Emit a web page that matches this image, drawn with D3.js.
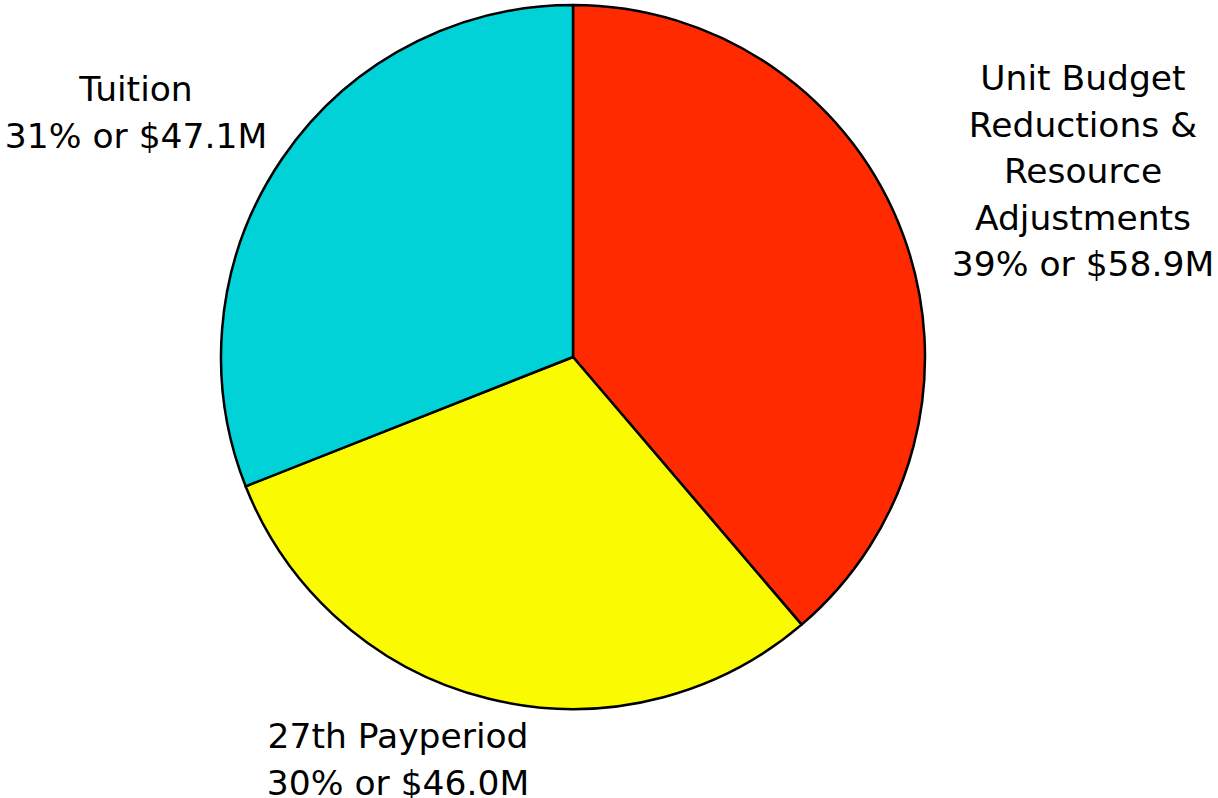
<!DOCTYPE html>
<html>
<head>
<meta charset="utf-8">
<script src="https://cdn.jsdelivr.net/npm/d3@7"></script>
<style>
  html, body { margin: 0; padding: 0; background: #ffffff; }
  svg { display: block; }
  text { font-family: "DejaVu Sans", "Lucida Grande", sans-serif; fill: #000; }
</style>
</head>
<body>
<svg id="chart" width="1218" height="798"></svg>
<script>
// Budget gap closure sources ($ millions)
const categories = ["Unit Budget Reductions & Resource Adjustments", "27th Payperiod", "Tuition"];
const labelLines = [["Unit Budget", "Reductions &", "Resource", "Adjustments"], ["27th Payperiod"], ["Tuition"]];
const values = [58.9, 46.0, 47.1];
const colors = ["#ff2a00", "#fafa00", "#00d2d7"];

const svg = d3.select("#chart");
const cx = 573, cy = 357, radius = 352;

const total = d3.sum(values);
const pie = d3.pie().sort(null).value(d => d.value);
const arc = d3.arc().innerRadius(0).outerRadius(radius);

const data = categories.map((c, i) => ({ name: c, value: values[i], color: colors[i], lines: labelLines[i] }));
const arcs = pie(data);

const g = svg.append("g").attr("transform", `translate(${cx},${cy})`);
g.selectAll("path")
  .data(arcs)
  .join("path")
  .attr("d", arc)
  .attr("fill", d => d.data.color)
  .attr("stroke", "#000")
  .attr("stroke-width", 2.5)
  .attr("stroke-linejoin", "round");

// Label blocks: anchor (center x, baseline of first line)
const labelAnchors = [
  { x: 1083, y: 90 },
  { x: 398, y: 748 },
  { x: 136, y: 101 }
];
const pct = d3.format(".0%");
const money = d3.format("$.1f");
const lineHeight = 46.5;

arcs.forEach((a, i) => {
  const lines = a.data.lines.concat([`${pct(a.data.value / total)} or ${money(a.data.value)}M`]);
  const t = svg.append("text")
    .attr("text-anchor", "middle")
    .attr("font-size", 34.5)
    .attr("x", labelAnchors[i].x)
    .attr("y", labelAnchors[i].y);
  lines.forEach((ln, j) => {
    t.append("tspan")
      .attr("x", labelAnchors[i].x)
      .attr("dy", j === 0 ? 0 : lineHeight)
      .text(ln);
  });
});
</script>
</body>
</html>
